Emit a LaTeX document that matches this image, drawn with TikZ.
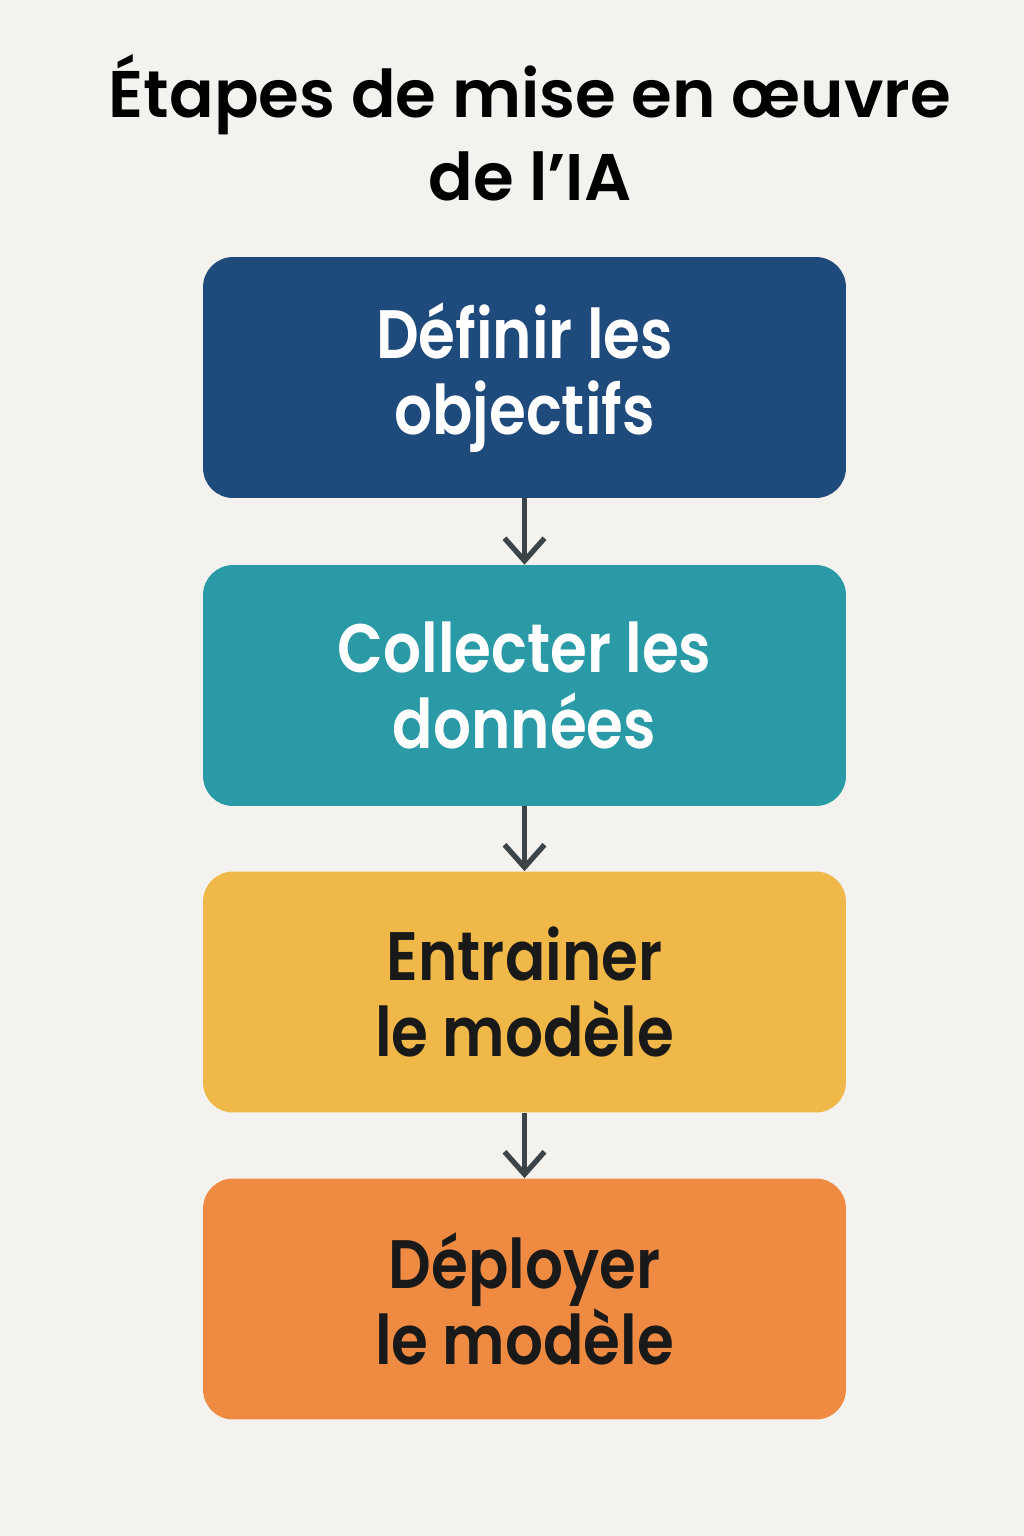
\documentclass[tikz,border=0pt]{standalone}
\usepackage{fontspec}
\setmainfont{Poppins}[BoldFont=Poppins SemiBold]
\newfontfamily\stepfont{Poppins SemiBold}[FakeStretch=0.87]
\usepackage{tikz}
\usetikzlibrary{arrows.meta,positioning}
\definecolor{bg}{HTML}{F4F2EF}
\definecolor{stepblue}{HTML}{1F4A7C}
\definecolor{stepteal}{HTML}{2A9BA6}
\definecolor{stepyellow}{HTML}{F0B848}
\definecolor{steporange}{HTML}{EE8A42}
\definecolor{arrowgray}{HTML}{3D4448}

\begin{document}
\begin{tikzpicture}
[x=0.02cm,y=-0.02cm,
 stepbox/.style={rectangle,rounded corners=0.6cm,draw=none,minimum width=12.86cm,
   minimum height=4.82cm,align=center,font=\stepfont\fontsize{39}{43}\selectfont},
 flow/.style={draw=arrowgray,line width=3pt,-{Straight Barb[length=0.45cm,width=0.8cm,line width=3pt]}}]
\fill[bg] (0,0) rectangle (1024,1536);
\useasboundingbox (0,0) rectangle (1024,1536);

\node (title) at (530,128) [align=center,font=\bfseries\fontsize{37.5}{47}\selectfont]
{Étapes de mise en œuvre\\de l’IA};

\node[stepbox,fill=stepblue,text=white] (goals) at (524.5,377.5) {Définir les\\objectifs};
\node[stepbox,fill=stepteal,text=white] (data) at (524.5,685.5) {Collecter les\\données};
\node[stepbox,fill=stepyellow,text=black!90] (train) at (524.5,992) {Entrainer\\le modèle};
\node[stepbox,fill=steporange,text=black!90] (deploy) at (524.5,1299) {Déployer\\le modèle};

\draw [flow] (goals) -- (data);
\draw [flow] (data) -- (train);
\draw [flow] (train) -- (deploy);
\end{tikzpicture}
\end{document}
